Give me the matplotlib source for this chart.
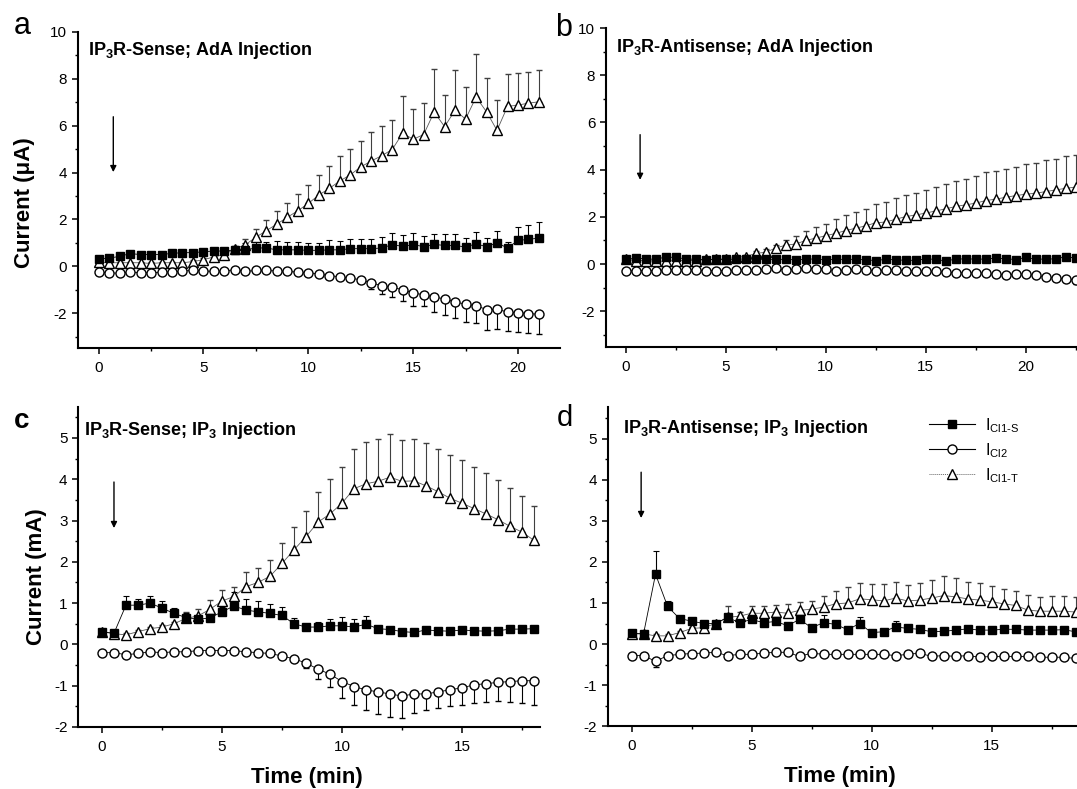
import numpy as np
import matplotlib
matplotlib.use("Agg")
import matplotlib.pyplot as plt
from matplotlib.lines import Line2D
from matplotlib.ticker import MultipleLocator, FixedLocator

plt.rcParams['font.family'] = ['Liberation Sans', 'DejaVu Sans']
plt.rcParams['mathtext.fontset'] = 'custom'
plt.rcParams['mathtext.rm'] = 'Liberation Sans'
plt.rcParams['mathtext.bf'] = 'Liberation Sans:bold'
plt.rcParams['axes.unicode_minus'] = False

# ---- panel a: IP3R-Sense, AdA injection (0-21 min) ----
a_time = [i * 0.5 for i in range(43)]
a_sq = [0.30, 0.35, 0.42, 0.54, 0.50, 0.50, 0.50, 0.55, 0.58, 0.58,
        0.62, 0.65, 0.65, 0.70, 0.70, 0.78, 0.78, 0.70, 0.70, 0.70,
        0.68, 0.68, 0.70, 0.70, 0.75, 0.75, 0.75, 0.78, 0.92, 0.85,
        0.92, 0.84, 0.93, 0.89, 0.89, 0.82, 0.96, 0.83, 1.00, 0.78,
        1.10, 1.15, 1.20]
a_sq_err = [0.08, 0.08, 0.08, 0.08, 0.08, 0.08, 0.08, 0.08, 0.08, 0.08,
            0.10, 0.12, 0.15, 0.15, 0.30, 0.33, 0.27, 0.36, 0.33, 0.33,
            0.32, 0.32, 0.40, 0.37, 0.42, 0.40, 0.40, 0.46, 0.52, 0.50,
            0.48, 0.47, 0.46, 0.47, 0.47, 0.40, 0.50, 0.36, 0.51, 0.26,
            0.59, 0.62, 0.69]
a_ci = [-0.25, -0.28, -0.30, -0.25, -0.28, -0.28, -0.25, -0.25, -0.20, -0.18,
        -0.20, -0.22, -0.20, -0.15, -0.22, -0.18, -0.18, -0.20, -0.22, -0.25,
        -0.30, -0.32, -0.40, -0.45, -0.50, -0.58, -0.70, -0.83, -0.90, -1.00,
        -1.13, -1.22, -1.30, -1.40, -1.52, -1.62, -1.68, -1.85, -1.84, -1.95,
        -1.98, -2.02, -2.05]
a_ci_err = [0.04, 0.04, 0.04, 0.04, 0.04, 0.04, 0.04, 0.04, 0.04, 0.04,
            0.04, 0.04, 0.04, 0.04, 0.04, 0.04, 0.04, 0.04, 0.04, 0.04,
            0.04, 0.04, 0.05, 0.07, 0.10, 0.14, 0.29, 0.35, 0.41, 0.50,
            0.55, 0.49, 0.65, 0.66, 0.68, 0.76, 0.75, 0.85, 0.83, 0.82,
            0.81, 0.82, 0.85]
a_tri = [0.18, 0.15, 0.15, 0.15, 0.15, 0.12, 0.15, 0.15, 0.15, 0.20,
         0.28, 0.40, 0.50, 0.75, 0.92, 1.24, 1.52, 1.80, 2.09, 2.37,
         2.68, 3.04, 3.32, 3.64, 3.90, 4.24, 4.49, 4.72, 4.98, 5.68,
         5.42, 5.62, 6.58, 5.96, 6.66, 6.28, 7.22, 6.59, 5.80, 6.82,
         6.88, 6.96, 7.02]
a_tri_err = [0.05, 0.05, 0.05, 0.05, 0.05, 0.05, 0.05, 0.05, 0.05, 0.05,
             0.06, 0.08, 0.10, 0.12, 0.25, 0.33, 0.45, 0.55, 0.60, 0.70,
             0.80, 0.85, 0.95, 1.05, 1.10, 1.12, 1.22, 1.25, 1.28, 1.57,
             1.31, 1.34, 1.86, 1.35, 1.71, 1.38, 1.83, 1.43, 1.29, 1.40,
             1.36, 1.35, 1.35]

# ---- panel b: IP3R-Antisense, AdA injection (0-22.5 min) ----
b_time = [i * 0.5 for i in range(46)]
b_sq = [0.20, 0.25, 0.22, 0.20, 0.30, 0.28, 0.22, 0.20, 0.18, 0.20,
        0.20, 0.20, 0.22, 0.20, 0.20, 0.20, 0.20, 0.18, 0.20, 0.22,
        0.18, 0.20, 0.20, 0.20, 0.18, 0.15, 0.20, 0.18, 0.16, 0.16,
        0.22, 0.20, 0.13, 0.21, 0.22, 0.21, 0.21, 0.25, 0.23, 0.19,
        0.28, 0.21, 0.21, 0.22, 0.31, 0.25]
b_sq_err = [0.05, 0.05, 0.05, 0.05, 0.05, 0.05, 0.05, 0.05, 0.05, 0.05,
            0.05, 0.05, 0.05, 0.05, 0.05, 0.05, 0.05, 0.05, 0.05, 0.05,
            0.05, 0.05, 0.05, 0.05, 0.05, 0.05, 0.05, 0.05, 0.05, 0.05,
            0.05, 0.05, 0.05, 0.05, 0.05, 0.05, 0.05, 0.05, 0.05, 0.05,
            0.06, 0.06, 0.06, 0.06, 0.06, 0.06]
b_ci = [-0.30, -0.28, -0.28, -0.28, -0.25, -0.25, -0.25, -0.25, -0.28, -0.28,
        -0.28, -0.25, -0.25, -0.25, -0.22, -0.18, -0.25, -0.22, -0.18, -0.20,
        -0.22, -0.28, -0.25, -0.22, -0.25, -0.28, -0.25, -0.25, -0.28, -0.30,
        -0.31, -0.31, -0.35, -0.37, -0.38, -0.38, -0.39, -0.44, -0.45, -0.43,
        -0.42, -0.48, -0.54, -0.58, -0.63, -0.66]
b_ci_err = [0.04, 0.04, 0.04, 0.04, 0.04, 0.04, 0.04, 0.04, 0.04, 0.04,
            0.04, 0.04, 0.04, 0.04, 0.04, 0.04, 0.04, 0.04, 0.04, 0.04,
            0.04, 0.04, 0.04, 0.04, 0.04, 0.04, 0.04, 0.04, 0.04, 0.04,
            0.04, 0.04, 0.04, 0.04, 0.04, 0.05, 0.05, 0.05, 0.06, 0.06,
            0.07, 0.08, 0.10, 0.12, 0.15, 0.18]
b_tri = [0.20, 0.15, 0.15, 0.12, 0.12, 0.15, 0.15, 0.15, 0.20, 0.20,
         0.22, 0.28, 0.32, 0.45, 0.50, 0.68, 0.80, 0.85, 1.00, 1.10,
         1.20, 1.30, 1.42, 1.52, 1.62, 1.75, 1.78, 1.90, 2.01, 2.08,
         2.16, 2.25, 2.34, 2.44, 2.51, 2.58, 2.69, 2.75, 2.83, 2.90,
         2.96, 3.00, 3.07, 3.14, 3.21, 3.26]
b_tri_err = [0.04, 0.04, 0.04, 0.04, 0.04, 0.04, 0.04, 0.04, 0.04, 0.04,
             0.05, 0.06, 0.08, 0.10, 0.12, 0.12, 0.24, 0.34, 0.40, 0.47,
             0.51, 0.60, 0.65, 0.67, 0.71, 0.79, 0.86, 0.89, 0.90, 0.94,
             0.97, 1.03, 1.05, 1.08, 1.11, 1.15, 1.21, 1.21, 1.21, 1.21,
             1.30, 1.30, 1.35, 1.33, 1.35, 1.37]

# ---- panel c: IP3R-Sense, IP3 injection (0-18 min) ----
c_time = [i * 0.5 for i in range(37)]
c_sq = [0.30, 0.27, 0.95, 0.95, 1.00, 0.88, 0.75, 0.65, 0.61, 0.64,
        0.79, 0.93, 0.83, 0.79, 0.75, 0.70, 0.50, 0.42, 0.42, 0.45,
        0.45, 0.42, 0.49, 0.38, 0.36, 0.31, 0.29, 0.35, 0.33, 0.32,
        0.35, 0.33, 0.32, 0.33, 0.37, 0.37, 0.38]
c_sq_err = [0.04, 0.04, 0.23, 0.16, 0.16, 0.16, 0.14, 0.12, 0.10, 0.10,
            0.12, 0.34, 0.26, 0.25, 0.23, 0.21, 0.14, 0.08, 0.12, 0.16,
            0.21, 0.19, 0.20, 0.06, 0.05, 0.04, 0.04, 0.04, 0.04, 0.04,
            0.04, 0.04, 0.04, 0.04, 0.04, 0.04, 0.04]
c_ci = [-0.20, -0.20, -0.25, -0.22, -0.18, -0.20, -0.18, -0.18, -0.15, -0.15,
        -0.15, -0.15, -0.18, -0.20, -0.22, -0.28, -0.35, -0.45, -0.60, -0.72,
        -0.90, -1.02, -1.10, -1.15, -1.20, -1.25, -1.20, -1.20, -1.15, -1.10,
        -1.05, -0.98, -0.95, -0.92, -0.90, -0.88, -0.88]
c_ci_err = [0.04, 0.04, 0.04, 0.04, 0.04, 0.04, 0.04, 0.04, 0.04, 0.04,
            0.04, 0.04, 0.04, 0.04, 0.04, 0.04, 0.04, 0.13, 0.23, 0.32,
            0.40, 0.44, 0.50, 0.53, 0.56, 0.53, 0.45, 0.40, 0.39, 0.38,
            0.41, 0.44, 0.44, 0.46, 0.49, 0.54, 0.58]
c_tri = [0.31, 0.26, 0.23, 0.31, 0.38, 0.42, 0.50, 0.63, 0.69, 0.85,
         1.05, 1.16, 1.40, 1.50, 1.65, 1.96, 2.29, 2.61, 2.96, 3.16,
         3.42, 3.77, 3.89, 3.95, 4.05, 3.95, 3.96, 3.84, 3.70, 3.54,
         3.42, 3.29, 3.16, 3.02, 2.86, 2.72, 2.52]
c_tri_err = [0.04, 0.04, 0.04, 0.04, 0.04, 0.04, 0.05, 0.15, 0.17, 0.23,
             0.26, 0.24, 0.36, 0.36, 0.39, 0.50, 0.55, 0.63, 0.74, 0.84,
             0.87, 0.97, 1.00, 1.03, 1.04, 1.00, 1.02, 1.04, 1.03, 1.04,
             1.05, 1.00, 1.00, 0.96, 0.92, 0.88, 0.84]

# ---- panel d: IP3R-Antisense, IP3 injection (0-18.5 min) ----
d_time = [i * 0.5 for i in range(38)]
d_sq = [0.26, 0.25, 1.70, 0.92, 0.62, 0.56, 0.50, 0.50, 0.65, 0.52,
        0.60, 0.52, 0.55, 0.45, 0.60, 0.40, 0.52, 0.48, 0.35, 0.50,
        0.28, 0.30, 0.42, 0.38, 0.36, 0.30, 0.31, 0.34, 0.37, 0.34,
        0.34, 0.36, 0.36, 0.34, 0.34, 0.34, 0.35, 0.30]
d_sq_err = [0.04, 0.04, 0.57, 0.13, 0.05, 0.05, 0.04, 0.04, 0.04, 0.04,
            0.04, 0.04, 0.04, 0.04, 0.04, 0.04, 0.18, 0.05, 0.04, 0.15,
            0.04, 0.04, 0.15, 0.04, 0.04, 0.04, 0.04, 0.04, 0.04, 0.04,
            0.04, 0.04, 0.04, 0.04, 0.04, 0.04, 0.04, 0.04]
d_ci = [-0.28, -0.28, -0.42, -0.28, -0.25, -0.23, -0.22, -0.20, -0.28, -0.25,
        -0.25, -0.22, -0.20, -0.20, -0.30, -0.22, -0.25, -0.25, -0.25, -0.25,
        -0.25, -0.25, -0.28, -0.25, -0.22, -0.30, -0.28, -0.30, -0.28, -0.32,
        -0.30, -0.30, -0.30, -0.30, -0.32, -0.32, -0.32, -0.35]
d_ci_err = [0.03, 0.03, 0.13, 0.03, 0.03, 0.03, 0.03, 0.03, 0.03, 0.03,
            0.03, 0.03, 0.03, 0.03, 0.03, 0.03, 0.03, 0.03, 0.03, 0.03,
            0.03, 0.03, 0.03, 0.03, 0.03, 0.03, 0.03, 0.03, 0.03, 0.03,
            0.03, 0.03, 0.03, 0.03, 0.03, 0.03, 0.03, 0.03]
d_tri = [0.25, 0.25, 0.20, 0.20, 0.28, 0.38, 0.40, 0.50, 0.65, 0.68,
         0.75, 0.75, 0.78, 0.75, 0.82, 0.85, 0.90, 0.98, 1.00, 1.10,
         1.08, 1.05, 1.12, 1.05, 1.07, 1.12, 1.18, 1.15, 1.10, 1.07,
         1.03, 0.98, 0.94, 0.83, 0.80, 0.80, 0.80, 0.78]
d_tri_err = [0.04, 0.04, 0.04, 0.04, 0.04, 0.04, 0.04, 0.06, 0.28, 0.10,
             0.17, 0.18, 0.18, 0.22, 0.20, 0.20, 0.27, 0.31, 0.39, 0.39,
             0.39, 0.40, 0.40, 0.39, 0.42, 0.45, 0.47, 0.47, 0.40, 0.42,
             0.38, 0.35, 0.35, 0.37, 0.35, 0.37, 0.37, 0.37]

series_names = ['I$_{\\mathrm{Cl1\u2010S}}$', 'I$_{\\mathrm{Cl2}}$', 'I$_{\\mathrm{Cl1\u2010T}}$']


def draw_panel(ax, t, sq, sq_err, ci, ci_err, tri, tri_err):
    zeros = np.zeros(len(t))
    bar_kw = dict(elinewidth=0.8, capsize=2.5, capthick=0.8)
    ax.errorbar(t, tri, yerr=[zeros, tri_err], marker='^', ms=7.5, mfc='white',
                mec='black', mew=1.0, color='0.35', lw=0.6, ecolor='0.25', **bar_kw)
    ax.errorbar(t, sq, yerr=[zeros, sq_err], marker='s', ms=6, mfc='black',
                mec='black', color='black', lw=0.6, ecolor='black', **bar_kw)
    ax.errorbar(t, ci, yerr=[ci_err, zeros], marker='o', ms=6.5, mfc='white',
                mec='black', mew=1.0, color='black', lw=0.6, ecolor='black', **bar_kw)


def style_axes(ax, xlim, ylim, xticks, ymajor, yminor):
    ax.set_xlim(*xlim)
    ax.set_ylim(*ylim)
    ax.xaxis.set_major_locator(FixedLocator(xticks))
    ax.xaxis.set_minor_locator(MultipleLocator(2.5))
    ax.yaxis.set_major_locator(MultipleLocator(ymajor))
    ax.yaxis.set_minor_locator(MultipleLocator(yminor))
    for side in ['top', 'right']:
        ax.spines[side].set_visible(False)
    for side in ['left', 'bottom']:
        ax.spines[side].set_linewidth(1.5)
    ax.tick_params(which='major', direction='out', length=4.5, width=1.1, labelsize=11)
    ax.tick_params(which='minor', direction='out', length=2.5, width=1.0)
    ax.tick_params(axis='x', which='major', pad=5)
    ax.tick_params(axis='y', which='major', pad=3)


def add_arrow(ax, x, y_start, y_end):
    ax.annotate('', xy=(x, y_end), xytext=(x, y_start),
                arrowprops=dict(arrowstyle='-|>', lw=1.0, color='black', mutation_scale=9))


fig = plt.figure(figsize=(10.77, 7.89), dpi=100)
fig.patch.set_facecolor('white')

ax_a = fig.add_axes([0.0721, 0.5586, 0.4478, 0.4009])
ax_b = fig.add_axes([0.5624, 0.5606, 0.4828, 0.4039])
ax_c = fig.add_axes([0.0724, 0.0786, 0.4290, 0.4056])
ax_d = fig.add_axes([0.5641, 0.0795, 0.5794, 0.4047])

draw_panel(ax_a, a_time, a_sq, a_sq_err, a_ci, a_ci_err, a_tri, a_tri_err)
draw_panel(ax_b, b_time, b_sq, b_sq_err, b_ci, b_ci_err, b_tri, b_tri_err)
draw_panel(ax_c, c_time, c_sq, c_sq_err, c_ci, c_ci_err, c_tri, c_tri_err)
draw_panel(ax_d, d_time, d_sq, d_sq_err, d_ci, d_ci_err, d_tri, d_tri_err)

style_axes(ax_a, (-1, 22), (-3.5, 10), [0, 5, 10, 15, 20], 2, 1)
style_axes(ax_b, (-1, 25), (-3.5, 10), [0, 5, 10, 15, 20], 2, 1)
style_axes(ax_c, (-1, 18.25), (-2, 5.75), [0, 5, 10, 15], 1, 0.5)
style_axes(ax_d, (-1, 25), (-2, 5.77), [0, 5, 10, 15], 1, 0.5)

add_arrow(ax_a, 0.7, 6.5, 3.9)
add_arrow(ax_b, 0.72, 5.6, 3.45)
add_arrow(ax_c, 0.5, 4.0, 2.75)
add_arrow(ax_d, 0.4, 4.25, 3.0)

title_kw = dict(fontsize=13, fontweight='bold', va='center')
ax_a.text(0.021, 0.94, 'IP$_{\\mathbf{3}}$R-Sense; AdA Injection', transform=ax_a.transAxes, **title_kw)
ax_b.text(0.02, 0.94, 'IP$_{\\mathbf{3}}$R-Antisense; AdA Injection', transform=ax_b.transAxes, **title_kw)
ax_c.text(0.012, 0.928, 'IP$_{\\mathbf{3}}$R-Sense; IP$_{\\mathbf{3}}$ Injection', transform=ax_c.transAxes, **title_kw)
ax_d.text(0.025, 0.932, 'IP$_{\\mathbf{3}}$R-Antisense; IP$_{\\mathbf{3}}$ Injection', transform=ax_d.transAxes, **title_kw)

label_kw = dict(fontsize=16, fontweight='bold')
ax_a.set_ylabel('Current (\u03bcA)', **label_kw)
ax_a.yaxis.set_label_coords(-0.089, 0.46)
ax_c.set_ylabel('Current (mA)', **label_kw)
ax_c.yaxis.set_label_coords(-0.066, 0.47)
ax_c.set_xlabel('Time (min)', **label_kw)
ax_c.xaxis.set_label_coords(0.495, -0.125)
ax_d.set_xlabel('Time (min)', **label_kw)
ax_d.xaxis.set_label_coords(0.3726, -0.125)

handles = [
    Line2D([], [], color='black', lw=0.8, marker='s', ms=6, mfc='black', mec='black'),
    Line2D([], [], color='black', lw=0.8, marker='o', ms=6.5, mfc='white', mec='black'),
    Line2D([], [], color='0.4', lw=0.7, ls=(0, (1, 1)), marker='^', ms=7, mfc='white', mec='black'),
]
ax_d.legend(handles, series_names, loc='upper left', bbox_to_anchor=(0.515, 0.972),
            frameon=False, fontsize=11.5, handlelength=2.9, handletextpad=0.6,
            labelspacing=0.4, borderpad=0, borderaxespad=0)

fig.text(0.013, 0.957, 'a', fontsize=22, va='baseline')
fig.text(0.515, 0.954, 'b', fontsize=22, va='baseline')
fig.text(0.013, 0.458, 'c', fontsize=20, fontweight='bold', va='baseline')
fig.text(0.517, 0.460, 'd', fontsize=21, va='baseline')

fig.savefig('out.png', dpi=100)
